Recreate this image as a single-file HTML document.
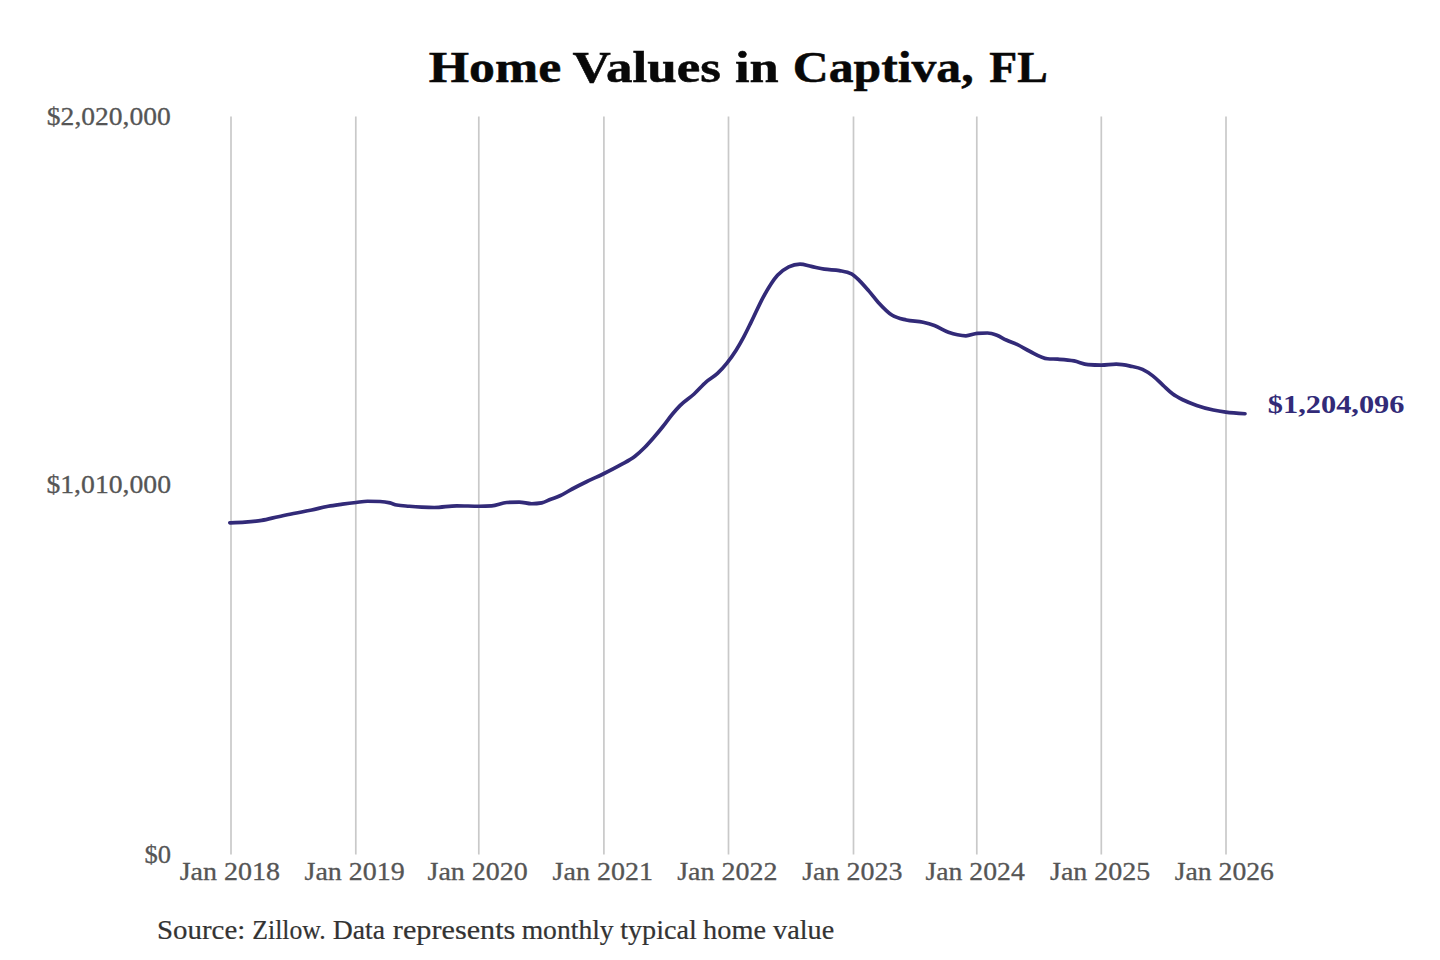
<!DOCTYPE html>
<html><head><meta charset="utf-8"><title>Home Values in Captiva, FL</title><style>
html,body{margin:0;padding:0;background:#fff;width:1440px;height:960px;overflow:hidden}
svg{display:block}
text{font-family:"Liberation Serif",serif}
</style></head><body>
<svg width="1440" height="960" viewBox="0 0 1440 960">
<rect width="1440" height="960" fill="#fff"/>
<line x1="231.00" y1="116.5" x2="231.00" y2="854.5" stroke="#c9c9c9" stroke-width="1.7"/>
<line x1="355.80" y1="116.5" x2="355.80" y2="854.5" stroke="#c9c9c9" stroke-width="1.7"/>
<line x1="478.80" y1="116.5" x2="478.80" y2="854.5" stroke="#c9c9c9" stroke-width="1.7"/>
<line x1="603.90" y1="116.5" x2="603.90" y2="854.5" stroke="#c9c9c9" stroke-width="1.7"/>
<line x1="728.50" y1="116.5" x2="728.50" y2="854.5" stroke="#c9c9c9" stroke-width="1.7"/>
<line x1="853.50" y1="116.5" x2="853.50" y2="854.5" stroke="#c9c9c9" stroke-width="1.7"/>
<line x1="976.80" y1="116.5" x2="976.80" y2="854.5" stroke="#c9c9c9" stroke-width="1.7"/>
<line x1="1101.30" y1="116.5" x2="1101.30" y2="854.5" stroke="#c9c9c9" stroke-width="1.7"/>
<line x1="1226.00" y1="116.5" x2="1226.00" y2="854.5" stroke="#c9c9c9" stroke-width="1.7"/>
<path d="M229.80,522.80 C234.87,522.63 239.93,522.47 245.00,522.10 C250.57,521.70 256.13,521.30 261.70,520.40 C267.23,519.50 272.77,517.88 278.30,516.70 C283.87,515.51 289.43,514.42 295.00,513.30 C300.57,512.18 306.13,511.18 311.70,510.00 C317.23,508.83 322.77,507.26 328.30,506.25 C333.03,505.39 337.77,504.84 342.50,504.20 C347.00,503.59 351.50,503.02 356.00,502.50 C359.83,502.05 363.67,501.25 367.50,501.25 C371.67,501.25 375.83,501.33 380.00,501.50 C383.33,501.63 386.67,502.09 390.00,502.90 C392.23,503.44 394.47,504.55 396.70,505.00 C400.87,505.83 405.03,505.90 409.20,506.25 C413.37,506.60 417.53,506.89 421.70,507.10 C425.87,507.31 430.03,507.50 434.20,507.50 C441.70,507.50 449.20,505.80 456.70,505.80 C464.20,505.80 471.70,506.25 479.20,506.25 C483.37,506.25 487.53,506.10 491.70,505.80 C496.70,505.44 501.70,502.82 506.70,502.50 C510.87,502.23 515.03,502.10 519.20,502.10 C523.37,502.10 527.53,503.75 531.70,503.75 C535.03,503.75 538.37,503.47 541.70,502.90 C544.73,502.38 547.77,500.38 550.80,499.20 C553.87,498.01 556.93,497.18 560.00,495.80 C564.07,493.97 568.13,491.17 572.20,489.00 C577.13,486.36 582.07,483.90 587.00,481.50 C592.37,478.89 597.73,476.64 603.10,474.00 C609.07,471.07 615.03,468.08 621.00,464.70 C625.67,462.06 630.33,459.89 635.00,456.25 C638.13,453.81 641.27,450.94 644.40,447.80 C647.52,444.68 650.63,441.09 653.75,437.50 C656.87,433.91 659.98,430.16 663.10,426.25 C666.23,422.32 669.37,417.76 672.50,414.00 C675.00,411.00 677.50,408.14 680.00,405.60 C684.70,400.82 689.40,398.30 694.10,394.00 C698.15,390.29 702.20,385.43 706.25,381.90 C710.00,378.63 713.75,376.93 717.50,373.40 C720.63,370.45 723.77,367.01 726.90,363.10 C730.02,359.21 733.13,354.96 736.25,350.00 C738.75,346.02 741.25,341.58 743.75,336.90 C746.25,332.22 748.75,326.95 751.25,321.90 C755.30,313.71 759.35,304.25 763.40,296.90 C768.10,288.37 772.80,280.45 777.50,275.30 C781.25,271.19 785.00,268.77 788.75,266.90 C792.50,265.03 796.25,264.10 800.00,264.10 C803.75,264.10 807.50,265.62 811.25,266.40 C815.63,267.31 820.02,268.51 824.40,269.20 C829.40,269.99 834.40,269.67 839.40,270.60 C843.43,271.35 847.47,271.70 851.50,273.90 C854.13,275.34 856.77,278.06 859.40,280.60 C862.52,283.61 865.63,287.30 868.75,290.90 C871.87,294.50 874.98,298.78 878.10,302.20 C882.80,307.36 887.50,312.33 892.20,315.30 C896.88,318.26 901.57,318.86 906.25,320.00 C911.87,321.37 917.48,321.01 923.10,322.30 C926.87,323.16 930.63,324.20 934.40,325.60 C939.07,327.34 943.73,330.53 948.40,332.20 C951.43,333.29 954.47,334.20 957.50,334.80 C960.30,335.36 963.10,335.80 965.90,335.80 C969.67,335.80 973.43,333.69 977.20,333.40 C980.63,333.13 984.07,333.00 987.50,333.00 C990.63,333.00 993.77,334.13 996.90,335.30 C1000.02,336.47 1003.13,338.55 1006.25,340.00 C1010.00,341.74 1013.75,342.92 1017.50,344.70 C1021.57,346.63 1025.63,349.26 1029.70,351.25 C1035.63,354.16 1041.57,358.23 1047.50,358.75 C1050.93,359.05 1054.37,358.97 1057.80,359.20 C1063.23,359.56 1068.67,359.84 1074.10,360.90 C1078.77,361.81 1083.43,364.35 1088.10,364.70 C1092.48,365.03 1096.87,365.20 1101.25,365.20 C1106.25,365.20 1111.25,364.20 1116.25,364.20 C1120.93,364.20 1125.62,365.13 1130.30,366.10 C1134.37,366.94 1138.43,367.50 1142.50,369.40 C1145.93,371.00 1149.37,373.25 1152.80,375.90 C1156.23,378.55 1159.67,382.19 1163.10,385.30 C1166.23,388.14 1169.37,391.40 1172.50,393.75 C1176.10,396.45 1179.70,398.20 1183.30,400.00 C1187.77,402.23 1192.23,403.85 1196.70,405.40 C1202.23,407.32 1207.77,408.81 1213.30,410.00 C1217.47,410.90 1221.63,411.53 1225.80,412.10 C1232.20,412.97 1238.60,413.36 1245.00,413.75" fill="none" stroke="#322a78" stroke-width="3.7" stroke-linecap="round" stroke-linejoin="round"/>
<text x="428.82" y="81.6" font-size="44" font-weight="bold" fill="#080808" stroke="#080808" stroke-width="0.5" textLength="132.33" lengthAdjust="spacingAndGlyphs">Home</text>
<text x="572.54" y="81.6" font-size="44" font-weight="bold" fill="#080808" stroke="#080808" stroke-width="0.5" textLength="148.37" lengthAdjust="spacingAndGlyphs">Values</text>
<text x="735.06" y="81.6" font-size="44" font-weight="bold" fill="#080808" stroke="#080808" stroke-width="0.5" textLength="43.68" lengthAdjust="spacingAndGlyphs">in</text>
<text x="792.74" y="81.6" font-size="44" font-weight="bold" fill="#080808" stroke="#080808" stroke-width="0.5" textLength="180.91" lengthAdjust="spacingAndGlyphs">Captiva,</text>
<text x="989.26" y="81.6" font-size="44" font-weight="bold" fill="#080808" stroke="#080808" stroke-width="0.5" textLength="58.46" lengthAdjust="spacingAndGlyphs">FL</text>
<text x="46.84" y="124.5" font-size="26" font-weight="normal" fill="#555" stroke="#555" stroke-width="0.3" textLength="124.02" lengthAdjust="spacingAndGlyphs">$2,020,000</text>
<text x="46.43" y="492.5" font-size="26" font-weight="normal" fill="#555" stroke="#555" stroke-width="0.3" textLength="124.63" lengthAdjust="spacingAndGlyphs">$1,010,000</text>
<text x="144.48" y="863" font-size="26" font-weight="normal" fill="#555" stroke="#555" stroke-width="0.3" textLength="26.54" lengthAdjust="spacingAndGlyphs">$0</text>
<text x="179.72" y="879.5" font-size="26" font-weight="normal" fill="#555" stroke="#555" stroke-width="0.3" textLength="100.34" lengthAdjust="spacingAndGlyphs">Jan 2018</text>
<text x="304.52" y="879.5" font-size="26" font-weight="normal" fill="#555" stroke="#555" stroke-width="0.3" textLength="100.34" lengthAdjust="spacingAndGlyphs">Jan 2019</text>
<text x="427.52" y="879.5" font-size="26" font-weight="normal" fill="#555" stroke="#555" stroke-width="0.3" textLength="100.34" lengthAdjust="spacingAndGlyphs">Jan 2020</text>
<text x="552.62" y="879.5" font-size="26" font-weight="normal" fill="#555" stroke="#555" stroke-width="0.3" textLength="100.34" lengthAdjust="spacingAndGlyphs">Jan 2021</text>
<text x="677.22" y="879.5" font-size="26" font-weight="normal" fill="#555" stroke="#555" stroke-width="0.3" textLength="100.34" lengthAdjust="spacingAndGlyphs">Jan 2022</text>
<text x="802.22" y="879.5" font-size="26" font-weight="normal" fill="#555" stroke="#555" stroke-width="0.3" textLength="100.34" lengthAdjust="spacingAndGlyphs">Jan 2023</text>
<text x="925.53" y="879.5" font-size="26" font-weight="normal" fill="#555" stroke="#555" stroke-width="0.3" textLength="99.25" lengthAdjust="spacingAndGlyphs">Jan 2024</text>
<text x="1050.02" y="879.5" font-size="26" font-weight="normal" fill="#555" stroke="#555" stroke-width="0.3" textLength="100.34" lengthAdjust="spacingAndGlyphs">Jan 2025</text>
<text x="1174.73" y="879.5" font-size="26" font-weight="normal" fill="#555" stroke="#555" stroke-width="0.3" textLength="99.25" lengthAdjust="spacingAndGlyphs">Jan 2026</text>
<text x="1267.83" y="412.5" font-size="26" font-weight="bold" fill="#322a78" textLength="136.64" lengthAdjust="spacingAndGlyphs">$1,204,096</text>
<text x="157.02" y="939" font-size="26.5" font-weight="normal" fill="#333" stroke="#333" stroke-width="0.2" textLength="88.21" lengthAdjust="spacingAndGlyphs">Source:</text>
<text x="252.33" y="939" font-size="26.5" font-weight="normal" fill="#333" stroke="#333" stroke-width="0.2" textLength="73.30" lengthAdjust="spacingAndGlyphs">Zillow.</text>
<text x="332.70" y="939" font-size="26.5" font-weight="normal" fill="#333" stroke="#333" stroke-width="0.2" textLength="52.33" lengthAdjust="spacingAndGlyphs">Data</text>
<text x="392.86" y="939" font-size="26.5" font-weight="normal" fill="#333" stroke="#333" stroke-width="0.2" textLength="122.53" lengthAdjust="spacingAndGlyphs">represents</text>
<text x="521.66" y="939" font-size="26.5" font-weight="normal" fill="#333" stroke="#333" stroke-width="0.2" textLength="92.00" lengthAdjust="spacingAndGlyphs">monthly</text>
<text x="620.19" y="939" font-size="26.5" font-weight="normal" fill="#333" stroke="#333" stroke-width="0.2" textLength="76.61" lengthAdjust="spacingAndGlyphs">typical</text>
<text x="703.13" y="939" font-size="26.5" font-weight="normal" fill="#333" stroke="#333" stroke-width="0.2" textLength="62.80" lengthAdjust="spacingAndGlyphs">home</text>
<text x="773.10" y="939" font-size="26.5" font-weight="normal" fill="#333" stroke="#333" stroke-width="0.2" textLength="61.08" lengthAdjust="spacingAndGlyphs">value</text>
</svg>
</body></html>
